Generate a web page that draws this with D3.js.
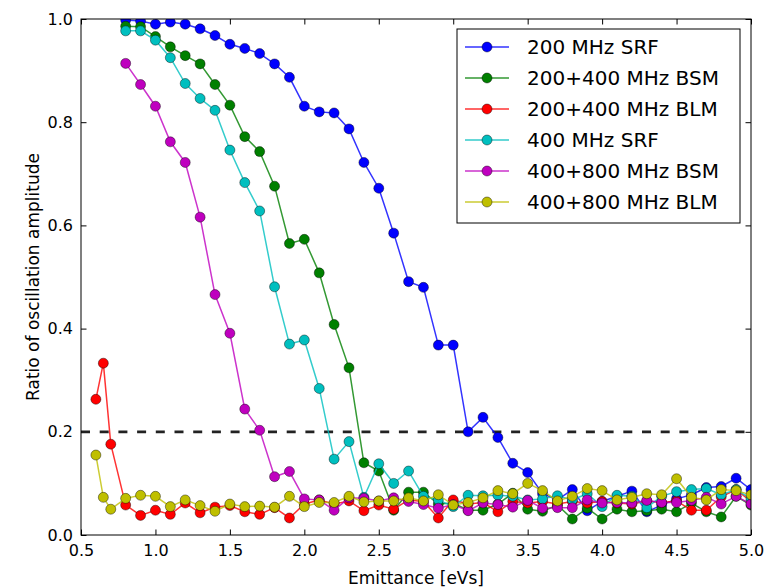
<!DOCTYPE html>
<html>
<head>
<meta charset="utf-8">
<script src="https://cdn.jsdelivr.net/npm/d3@7"></script>
<style>
  body { margin: 0; background: #fff; }
  svg { display: block; font-family: "DejaVu Sans", sans-serif; }
</style>
</head>
<body>
<div id="chart"></div>
<script>
// emittance points (0.8 ... 5.0 eVs), and the longer scan for the BLM cases
const xMain = [0.8, 0.9, 1.0, 1.1, 1.2, 1.3, 1.4, 1.5, 1.6, 1.7, 1.8, 1.9, 2.0, 2.1, 2.2, 2.3, 2.4, 2.5, 2.6, 2.7, 2.8, 2.9,
  3.0, 3.1, 3.2, 3.3, 3.4, 3.5, 3.6, 3.7, 3.8, 3.9, 4.0, 4.1, 4.2, 4.3, 4.4, 4.5, 4.6, 4.7, 4.8, 4.9, 5.0];
const xLong = [0.6, 0.65, 0.7].concat(xMain);

const srf200 = [0.998, 0.996, 0.990, 0.994, 0.990, 0.981, 0.968, 0.951, 0.943, 0.933, 0.913, 0.887, 0.831, 0.820, 0.818,
  0.787, 0.722, 0.672, 0.585, 0.491, 0.480, 0.368, 0.368, 0.200, 0.228, 0.189, 0.139, 0.121, 0.080, 0.068, 0.088, 0.047,
  0.065, 0.075, 0.085, 0.045, 0.058, 0.070, 0.078, 0.092, 0.094, 0.110, 0.088];
const bsm200400 = [0.986, 0.985, 0.966, 0.946, 0.929, 0.913, 0.873, 0.833, 0.772, 0.743, 0.676, 0.565, 0.573, 0.508, 0.408,
  0.324, 0.140, 0.124, 0.048, 0.083, 0.083, 0.060, 0.062, 0.048, 0.048, 0.060, 0.081, 0.050, 0.046, 0.058, 0.031, 0.052,
  0.031, 0.050, 0.045, 0.047, 0.050, 0.045, 0.062, 0.045, 0.035, 0.075, 0.058];
const blm200400 = [0.263, 0.333, 0.176, 0.058, 0.038, 0.048, 0.040, 0.062, 0.043, 0.054, 0.057, 0.045, 0.040, 0.053, 0.033,
  0.060, 0.068, 0.060, 0.066, 0.047, 0.058, 0.050, 0.068, 0.065, 0.033, 0.068, 0.060, 0.063, 0.045, 0.065, 0.062, 0.065,
  0.060, 0.065, 0.062, 0.065, 0.062, 0.060, 0.066, 0.063, 0.066, 0.048, 0.048, 0.074, 0.088, 0.065];
const srf400 = [0.977, 0.977, 0.959, 0.925, 0.875, 0.846, 0.823, 0.746, 0.683, 0.628, 0.481, 0.370, 0.378, 0.284, 0.147,
  0.181, 0.073, 0.138, 0.100, 0.124, 0.075, 0.068, 0.055, 0.077, 0.076, 0.077, 0.075, 0.068, 0.070, 0.076, 0.068, 0.080,
  0.055, 0.077, 0.075, 0.053, 0.075, 0.084, 0.088, 0.090, 0.078, 0.088, 0.070];
const bsm400800 = [0.914, 0.873, 0.831, 0.762, 0.722, 0.616, 0.466, 0.391, 0.244, 0.203, 0.113, 0.123, 0.070, 0.068, 0.048,
  0.072, 0.071, 0.066, 0.072, 0.065, 0.059, 0.052, 0.059, 0.047, 0.062, 0.059, 0.054, 0.067, 0.052, 0.053, 0.053, 0.068,
  0.062, 0.063, 0.062, 0.067, 0.063, 0.063, 0.067, 0.073, 0.060, 0.075, 0.060];
const blm400800 = [0.155, 0.073, 0.050, 0.071, 0.077, 0.075, 0.055, 0.068, 0.057, 0.046, 0.060, 0.055, 0.056, 0.054, 0.075,
  0.055, 0.063, 0.063, 0.075, 0.064, 0.066, 0.066, 0.072, 0.066, 0.078, 0.058, 0.063, 0.072, 0.086, 0.080, 0.100, 0.086,
  0.066, 0.075, 0.090, 0.086, 0.068, 0.073, 0.080, 0.078, 0.109, 0.073, 0.068, 0.088, 0.086, 0.078];

const seriesNames = ['200 MHz SRF', '200+400 MHz BSM', '200+400 MHz BLM', '400 MHz SRF', '400+800 MHz BSM', '400+800 MHz BLM'];
const seriesX = [xMain, xMain, xLong, xMain, xMain, xLong];
const seriesY = [srf200, bsm200400, blm200400, srf400, bsm400800, blm400800];
const colors = ['#0000ff', '#008000', '#ff0000', '#00bfbf', '#bf00bf', '#bfbf00'];

const threshold = 0.2;
const xTicks = [0.5, 1.0, 1.5, 2.0, 2.5, 3.0, 3.5, 4.0, 4.5, 5.0];
const yTicks = [0.0, 0.2, 0.4, 0.6, 0.8, 1.0];

const W = 774, H = 587;
const margin = { top: 19, right: 23, bottom: 52, left: 81 };
const iw = W - margin.left - margin.right;
const ih = H - margin.top - margin.bottom;

const svg = d3.select('#chart').append('svg')
  .attr('width', W)
  .attr('height', H);

svg.append('rect').attr('width', W).attr('height', H).attr('fill', '#fff');

const x = d3.scaleLinear().domain([0.5, 5.0]).range([0, iw]);
const y = d3.scaleLinear().domain([0, 1]).range([ih, 0]);

const g = svg.append('g').attr('transform', `translate(${margin.left},${margin.top})`);

svg.append('defs').append('clipPath').attr('id', 'plot-clip')
  .append('rect').attr('width', iw).attr('height', ih);

const fmt = d3.format('.1f');

// axes, ticks pointing inside like matplotlib classic
g.append('g').attr('transform', `translate(0,${ih})`)
  .call(d3.axisBottom(x).tickValues(xTicks).tickFormat(fmt).tickSize(-5.5).tickSizeOuter(0).tickPadding(9.5));
g.append('g')
  .call(d3.axisLeft(y).tickValues(yTicks).tickFormat(fmt).tickSize(-5.5).tickSizeOuter(0).tickPadding(8));
g.append('g')
  .call(d3.axisTop(x).tickValues(xTicks).tickFormat('').tickSize(-5.5).tickSizeOuter(0));
g.append('g').attr('transform', `translate(${iw},0)`)
  .call(d3.axisRight(y).tickValues(yTicks).tickFormat('').tickSize(-5.5).tickSizeOuter(0));

g.selectAll('.domain').remove();
g.selectAll('.tick line').attr('stroke', '#000').attr('stroke-width', 1);
g.selectAll('.tick text').attr('font-size', 16).attr('fill', '#000').attr('font-family', '"DejaVu Sans", sans-serif');

// data
const plot = g.append('g').attr('clip-path', 'url(#plot-clip)');

plot.append('line')
  .attr('x1', 0).attr('x2', iw)
  .attr('y1', y(threshold)).attr('y2', y(threshold))
  .attr('stroke', '#222')
  .attr('stroke-width', 2.7)
  .attr('stroke-dasharray', '9,9.7');

const line = d3.line().x(d => x(d[0])).y(d => y(d[1]));

seriesNames.forEach((name, i) => {
  const pts = seriesX[i].map((v, k) => [v, seriesY[i][k]]);
  const s = plot.append('g').attr('class', 'series');
  s.append('path')
    .datum(pts)
    .attr('d', line)
    .attr('fill', 'none')
    .attr('stroke', colors[i])
    .attr('stroke-opacity', 0.8)
    .attr('stroke-width', 1.5);
  s.selectAll('circle')
    .data(pts)
    .enter().append('circle')
    .attr('cx', d => x(d[0]))
    .attr('cy', d => y(d[1]))
    .attr('r', 5)
    .attr('fill', colors[i])
    .attr('stroke', '#000')
    .attr('stroke-opacity', 0.7)
    .attr('stroke-width', 0.6);
});

// frame
g.append('rect')
  .attr('width', iw).attr('height', ih)
  .attr('fill', 'none').attr('stroke', '#000').attr('stroke-width', 1);

// axis labels
svg.append('text')
  .attr('x', margin.left + iw / 2)
  .attr('y', 584)
  .attr('text-anchor', 'middle')
  .attr('font-size', 17)
  .text('Emittance [eVs]');

svg.append('text')
  .attr('transform', `translate(39,${margin.top + ih / 2}) rotate(-90)`)
  .attr('text-anchor', 'middle')
  .attr('font-size', 17)
  .text('Ratio of oscillation amplitude');

// legend
const legend = svg.append('g').attr('transform', 'translate(457,29)');
legend.append('rect')
  .attr('width', 283).attr('height', 194)
  .attr('fill', '#fff').attr('stroke', '#000').attr('stroke-width', 1);

seriesNames.forEach((name, i) => {
  const ly = 18 + i * 31;
  legend.append('line')
    .attr('x1', 8).attr('x2', 52)
    .attr('y1', ly).attr('y2', ly)
    .attr('stroke', colors[i]).attr('stroke-opacity', 0.8).attr('stroke-width', 1.5);
  legend.append('circle')
    .attr('cx', 30).attr('cy', ly).attr('r', 5)
    .attr('fill', colors[i]).attr('stroke', '#000').attr('stroke-opacity', 0.7).attr('stroke-width', 0.6);
  legend.append('text')
    .attr('x', 70).attr('y', ly).attr('dy', '0.36em')
    .attr('font-size', 20)
    .text(name);
});
</script>
</body>
</html>
